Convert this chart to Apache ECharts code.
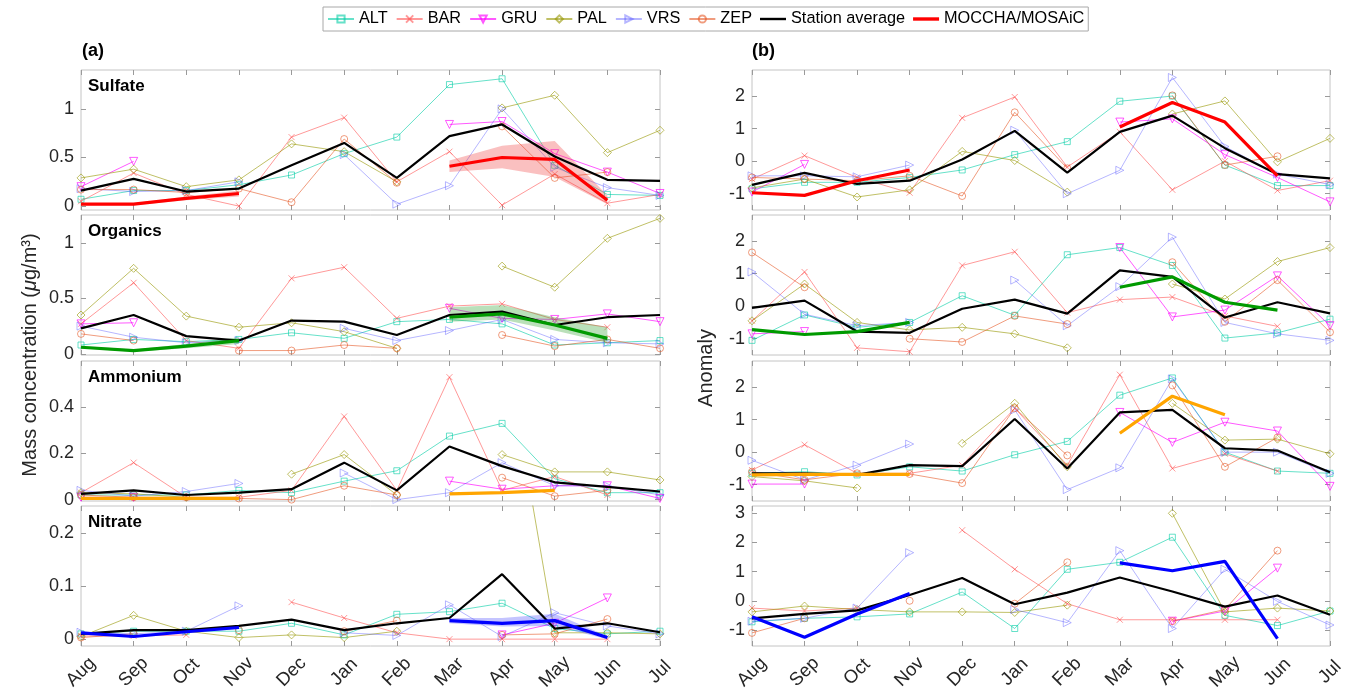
<!DOCTYPE html>
<html><head><meta charset="utf-8">
<script src="https://cdn.jsdelivr.net/npm/echarts@6/dist/echarts.min.js"></script>
<style>html,body{margin:0;padding:0;background:#fff}#c{width:1357px;height:695px}</style>
</head><body><div id="c"></div>
<script>
const months = ['Aug','Sep','Oct','Nov','Dec','Jan','Feb','Mar','Apr','May','Jun','Jul'];
const stations = ['ALT','BAR','GRU','PAL','VRS','ZEP'];
const N = null;

// ---------- (a) Mass concentration ----------
const sulALT = [0.07,0.16,0.16,0.22,0.32,0.54,0.71,1.25,1.31,0.42,0.12,0.11];
const sulBAR = [0.05,0.34,0.12,0.0,0.71,0.91,0.25,0.56,0.01,0.33,0.03,0.12];
const sulGRU = [0.2,0.46,N,N,N,N,N,0.84,0.87,0.54,0.35,0.13];
const sulPAL = [0.29,0.38,0.2,0.27,0.64,0.56,0.25,N,1.01,1.14,0.55,0.78];
const sulVRS = [0.18,0.15,0.16,0.25,N,0.53,0.02,0.21,1.0,0.4,0.19,0.11];
const sulZEP = [0.17,0.17,0.14,0.18,0.04,0.69,0.24,N,0.82,0.29,0.35,N];
const sulAVG = [0.16,0.28,0.15,0.18,0.42,0.65,0.29,0.72,0.84,0.51,0.27,0.26];
const sulMOC = [0.02,0.02,0.08,0.13,N,N,N,0.41,0.5,0.48,0.06,N];
const sulLO  = [0.01,0.01,0.06,0.10,N,N,N,0.35,0.39,0.30,0.02,N];
const sulHI  = [0.03,0.03,0.10,0.16,N,N,N,0.47,0.62,0.67,0.11,N];

const orgALT = [0.08,0.13,0.11,0.13,0.19,0.14,0.29,0.31,0.27,0.08,0.1,0.12];
const orgBAR = [0.27,0.64,0.12,0.05,0.68,0.78,0.32,0.43,0.45,0.31,0.24,N];
const orgGRU = [0.27,0.28,N,N,N,N,N,0.41,0.32,0.31,0.36,0.29];
const orgPAL = [0.35,0.77,0.34,0.24,0.28,0.2,0.05,N,0.79,0.6,1.04,1.22];
const orgVRS = [0.25,0.15,0.1,0.12,N,0.23,0.12,0.21,0.31,0.13,0.1,0.09];
const orgZEP = [0.18,0.12,N,0.03,0.03,0.08,0.05,N,0.17,0.07,0.13,0.05];
const orgAVG = [0.23,0.35,0.16,0.12,0.3,0.29,0.17,0.35,0.38,0.26,0.33,0.35];
const orgMOC = [0.06,0.03,0.07,0.12,N,N,N,0.33,0.36,0.26,0.14,N];
const orgLO  = [0.05,0.02,0.05,0.09,N,N,N,0.29,0.31,0.21,0.10,N];
const orgHI  = [0.07,0.04,0.09,0.15,N,N,N,0.42,0.44,0.33,0.24,N];

const ammALT = [0.02,0.02,0.02,0.04,0.03,0.08,0.125,0.275,0.33,0.09,0.03,0.03];
const ammBAR = [0.03,0.16,0.01,0.01,0.04,0.36,0.04,0.53,0.04,0.1,0.02,N];
const ammGRU = [0.01,0.01,N,N,N,N,N,0.08,0.045,0.06,0.06,0.005];
const ammPAL = [0.03,0.025,0.01,N,0.11,0.195,0.02,N,0.195,0.12,0.12,0.085];
const ammVRS = [0.04,0.015,0.035,0.07,N,0.115,0.0,0.03,0.16,0.06,0.06,0.02];
const ammZEP = [0.02,0.01,0.01,0.005,0.0,0.06,0.02,N,0.095,0.015,0.04,N];
const ammAVG = [0.025,0.04,0.02,0.03,0.045,0.16,0.04,0.23,0.145,0.075,0.055,0.035];
const ammMOC = [0.005,0.005,0.005,0.005,N,N,N,0.025,0.03,0.04,N,N];

const nitALT = [0.01,0.015,0.015,0.015,0.03,0.008,0.047,0.052,0.068,0.02,0.01,0.015];
const nitBAR = [0.006,0.006,0.008,N,0.07,0.04,0.012,0.0,0.0,0.0,0.0,N];
const nitGRU = [N,N,N,N,N,N,N,N,0.008,0.03,0.078,N];
const nitPAL = [0.005,0.045,0.015,0.003,0.008,0.003,0.015,N,0.59,0.012,0.012,0.01];
const nitVRS = [0.013,0.01,0.015,0.063,N,0.012,0.007,0.065,0.005,0.05,0.025,0.01];
const nitZEP = [0.003,0.01,N,0.017,N,0.015,0.035,N,0.008,0.01,0.038,N];
const nitAVG = [0.01,0.017,0.017,0.025,0.037,0.017,0.03,0.04,0.123,0.02,0.03,0.013];
const nitMOC = [0.012,0.005,0.014,0.022,N,N,N,0.035,0.03,0.035,0.003,N];
const nitLO  = [0.010,0.003,0.012,0.019,N,N,N,0.030,0.024,0.025,0.0,N];
const nitHI  = [0.014,0.007,0.016,0.026,N,N,N,0.040,0.040,0.048,0.006,N];

// ---------- (b) Anomaly ----------
const aSulALT = [-0.85,-0.65,-0.65,-0.5,-0.27,0.2,0.6,1.84,2.0,-0.12,-0.75,-0.75];
const aSulBAR = [-0.55,0.17,-0.5,-0.97,1.33,1.97,-0.18,0.9,-0.88,0.0,-0.9,-0.6];
const aSulGRU = [-0.95,-0.1,N,N,N,N,N,1.2,1.3,0.2,-0.5,-1.25];
const aSulPAL = [-0.82,-0.55,-1.1,-0.88,0.3,0.02,-0.95,N,1.45,1.85,-0.02,0.7];
const aSulVRS = [-0.45,-0.45,-0.48,-0.12,N,0.95,-1.0,-0.28,2.57,0.45,-0.4,-0.72];
const aSulZEP = [-0.5,-0.55,-0.6,-0.45,-1.07,1.5,-0.22,N,2.02,-0.12,0.15,N];
const aSulAVG = [-0.73,-0.36,-0.7,-0.6,0.05,0.93,-0.35,0.9,1.4,0.4,-0.4,-0.53];
const aSulMOC = [-0.97,-1.05,-0.6,-0.27,N,N,N,1.05,1.8,1.2,-0.45,N];

const aOrgALT = [-1.05,-0.27,-0.65,-0.5,0.32,-0.28,1.58,1.8,1.25,-0.98,-0.82,-0.4];
const aOrgBAR = [-0.45,1.05,-1.28,-1.4,1.25,1.67,-0.2,0.2,0.28,-0.3,-0.62,N];
const aOrgGRU = [-0.85,-0.78,N,N,N,N,N,1.8,-0.33,-0.12,0.93,-0.6];
const aOrgPAL = [-0.45,0.68,-0.5,-0.73,-0.65,-0.85,-1.28,N,0.68,0.22,1.37,1.8];
const aOrgVRS = [1.05,-0.25,-0.6,-0.5,N,0.8,-0.6,0.6,2.12,-0.5,-0.85,-1.05];
const aOrgZEP = [1.65,0.58,N,-1.0,-1.1,-0.3,-0.55,N,1.35,-0.48,0.8,-0.8];
const aOrgAVG = [-0.05,0.17,-0.78,-0.82,-0.08,0.2,-0.23,1.1,0.9,-0.35,0.12,-0.22];
const aOrgMOC = [-0.72,-0.87,-0.78,-0.5,N,N,N,0.58,0.9,0.12,-0.12,N];

const aAmmALT = [-0.65,-0.6,-0.7,-0.45,-0.58,-0.08,0.33,1.75,2.28,0.0,-0.58,-0.65];
const aAmmBAR = [-0.55,0.23,-0.65,-0.65,-0.4,1.35,-0.4,2.38,-0.5,-0.05,-0.58,N];
const aAmmGRU = [-0.98,-0.98,N,N,N,N,N,1.22,0.3,0.92,0.65,-1.05];
const aAmmPAL = [-0.75,-0.88,-1.1,N,0.27,1.5,-0.45,N,1.5,0.37,0.4,-0.05];
const aAmmVRS = [-0.25,-0.85,-0.4,0.25,N,1.3,-1.15,-0.48,2.25,0.0,0.0,-0.65];
const aAmmZEP = [-0.6,-0.85,-0.65,-0.67,-0.95,1.35,-0.1,N,2.05,-0.45,0.45,N];
const aAmmAVG = [-0.65,-0.65,-0.7,-0.4,-0.43,1.02,-0.5,1.22,1.3,0.12,0.05,-0.62];
const aAmmMOC = [-0.7,-0.68,-0.68,-0.68,N,N,N,0.58,1.72,1.15,N,N];

const aNitALT = [-0.72,-0.6,-0.55,-0.45,0.3,-0.95,1.08,1.32,2.18,-0.5,-0.85,-0.35];
const aNitBAR = [-0.25,-0.35,-0.25,N,2.42,1.08,-0.1,-0.65,-0.65,-0.65,-0.65,N];
const aNitGRU = [N,N,N,N,N,N,N,N,-0.7,-0.35,1.12,N];
const aNitPAL = [-0.38,-0.18,-0.3,-0.38,-0.38,-0.4,-0.15,N,3.0,-0.38,-0.25,-0.35];
const aNitVRS = [-0.7,-0.6,-0.25,1.65,N,-0.3,-0.75,1.72,-0.95,1.08,-0.02,-0.83];
const aNitZEP = [-1.1,-0.6,N,0.0,N,-0.1,1.32,N,-0.7,-0.3,1.72,N];
const aNitAVG = [-0.6,-0.45,-0.33,0.2,0.78,-0.12,0.28,0.8,0.32,-0.2,0.18,-0.48];
const aNitMOC = [-0.55,-1.25,-0.45,0.25,N,N,N,1.3,1.03,1.35,-1.3,N];

// tick labels
const ticksSul = [0,0.5,1];
const ticksOrg = [0,0.5,1];
const ticksAmm = [0,0.2,0.4];
const ticksNit = [0,0.1,0.2];
const ticksAn  = [-1,0,1,2];
const ticksAnN = [-1,0,1,2,3];
const species = ['Sulfate','Organics','Ammonium','Nitrate'];

// ---------- build ----------
const FONT = '"Liberation Sans", Arial, Helvetica, sans-serif';
const TXT = '#262626';
const stStyle = {
  ALT:{c:'rgba(0,205,165,0.6)', sym:'rect', size:6, rot:0},
  BAR:{c:'rgba(255,70,70,0.55)', sym:'path://M0,0L10,10M10,0L0,10', size:6, rot:0},
  GRU:{c:'rgba(255,0,255,0.65)', sym:'triangle', size:8, rot:180},
  PAL:{c:'rgba(150,150,0,0.6)', sym:'diamond', size:8, rot:0},
  VRS:{c:'rgba(80,80,255,0.42)', sym:'triangle', size:8, rot:-90},
  ZEP:{c:'rgba(230,90,40,0.6)', sym:'circle', size:7, rot:0}
};
const panels = [
  {col:0,row:0,st:[sulALT,sulBAR,sulGRU,sulPAL,sulVRS,sulZEP],avg:sulAVG,moc:sulMOC,lo:sulLO,hi:sulHI,mc:'#ff0000',bc:'rgba(240,60,60,0.32)',min:-0.04,max:1.4,ticks:ticksSul},
  {col:0,row:1,st:[orgALT,orgBAR,orgGRU,orgPAL,orgVRS,orgZEP],avg:orgAVG,moc:orgMOC,lo:orgLO,hi:orgHI,mc:'#009a00',bc:'rgba(40,160,40,0.32)',min:-0.01,max:1.25,ticks:ticksOrg},
  {col:0,row:2,st:[ammALT,ammBAR,ammGRU,ammPAL,ammVRS,ammZEP],avg:ammAVG,moc:ammMOC,lo:null,hi:null,mc:'#ffa500',bc:null,min:-0.006,max:0.6,ticks:ticksAmm},
  {col:0,row:3,st:[nitALT,nitBAR,nitGRU,nitPAL,nitVRS,nitZEP],avg:nitAVG,moc:nitMOC,lo:nitLO,hi:nitHI,mc:'#0000ff',bc:'rgba(60,60,255,0.3)',min:-0.013,max:0.252,ticks:ticksNit},
  {col:1,row:0,st:[aSulALT,aSulBAR,aSulGRU,aSulPAL,aSulVRS,aSulZEP],avg:aSulAVG,moc:aSulMOC,mc:'#ff0000',min:-1.5,max:2.8,ticks:ticksAn},
  {col:1,row:1,st:[aOrgALT,aOrgBAR,aOrgGRU,aOrgPAL,aOrgVRS,aOrgZEP],avg:aOrgAVG,moc:aOrgMOC,mc:'#009a00',min:-1.5,max:2.8,ticks:ticksAn},
  {col:1,row:2,st:[aAmmALT,aAmmBAR,aAmmGRU,aAmmPAL,aAmmVRS,aAmmZEP],avg:aAmmAVG,moc:aAmmMOC,mc:'#ffa500',min:-1.5,max:2.8,ticks:ticksAn},
  {col:1,row:3,st:[aNitALT,aNitBAR,aNitGRU,aNitPAL,aNitVRS,aNitZEP],avg:aNitAVG,moc:aNitMOC,mc:'#0000ff',min:-1.55,max:3.25,ticks:ticksAnN}
];

const tops = [70,215,361,506], H = 140;
const grids=[], xAxes=[], yAxes=[], series=[];
panels.forEach((p,g)=>{
  grids.push({left: p.col===0?81:752, right: p.col===0?697:27, top: tops[p.row], height: H,
    show:true, borderColor:'#c4c4c4', borderWidth:1, containLabel:false});
  const tick = {show:true, inside:true, length:5, interval:0, lineStyle:{color:'#9a9a9a'}};
  xAxes.push({type:'category', gridIndex:g, data:months, boundaryGap:false, position:'bottom',
    axisLine:{show:false, onZero:false}, axisTick:tick, splitLine:{show:false},
    axisLabel:{show:p.row===3, interval:0, rotate:45, fontSize:18.5, color:TXT, fontFamily:FONT,
      margin:26, align:'center', verticalAlign:'middle'}});
  xAxes.push({type:'category', gridIndex:g, data:months, boundaryGap:false, position:'top',
    axisLine:{show:false, onZero:false}, axisTick:tick, axisLabel:{show:false}, splitLine:{show:false}});
  const yt = {show:true, inside:true, length:5, customValues:p.ticks, lineStyle:{color:'#9a9a9a'}};
  yAxes.push({type:'value', gridIndex:g, min:p.min, max:p.max, position:'left',
    axisLine:{show:false, onZero:false}, splitLine:{show:false}, axisTick:yt,
    axisLabel:{show:true, customValues:p.ticks, fontSize:18, color:TXT, fontFamily:FONT, margin:7}});
  yAxes.push({type:'value', gridIndex:g, min:p.min, max:p.max, position:'right',
    axisLine:{show:false, onZero:false}, splitLine:{show:false}, axisTick:yt, axisLabel:{show:false}});
  const xi = 2*g, yi = 2*g;
  stations.forEach((s,k)=>{
    const ss = stStyle[s];
    series.push({type:'line', name:s, xAxisIndex:xi, yAxisIndex:yi, data:p.st[k],
      symbol:ss.sym, symbolSize:ss.size, symbolRotate:ss.rot, showSymbol:true, connectNulls:false,
      lineStyle:{color:ss.c, width:1}, itemStyle:{color:'rgba(255,255,255,0)', borderColor:ss.c, borderWidth:1},
      emphasis:{disabled:true}, animation:false, z:2});
  });
  if (p.lo) {
    const diff = p.hi.map((h,i)=> h==null?null: +(h - p.lo[i]).toFixed(4));
    series.push({type:'line', name:'_lo'+g, xAxisIndex:xi, yAxisIndex:yi, data:p.lo, stack:'band'+g,
      symbol:'none', lineStyle:{opacity:0}, animation:false, z:3, silent:true});
    series.push({type:'line', name:'_hi'+g, xAxisIndex:xi, yAxisIndex:yi, data:diff, stack:'band'+g,
      symbol:'none', lineStyle:{opacity:0}, areaStyle:{color:p.bc, opacity:1}, animation:false, z:3, silent:true});
  }
  series.push({type:'line', name:'Station average', xAxisIndex:xi, yAxisIndex:yi, data:p.avg,
    symbol:'none', lineStyle:{color:'#000', width:2.2}, itemStyle:{color:'#000'}, animation:false, z:4});
  series.push({type:'line', name:'MOCCHA/MOSAiC', xAxisIndex:xi, yAxisIndex:yi, data:p.moc,
    symbol:'none', connectNulls:false, lineStyle:{color:p.mc, width:3.2}, itemStyle:{color:p.mc}, animation:false, z:5});
});

const graphics = [
  {type:'text', left:82, top:42, style:{text:'(a)', font:'bold 18px '+FONT, fill:'#000'}},
  {type:'text', left:752, top:42, style:{text:'(b)', font:'bold 18px '+FONT, fill:'#000'}},
  {type:'text', x:30, y:355, rotation:Math.PI/2, style:{
    text:'{n|Mass concentration (}{i|μ}{n|g/m³)}', align:'center', verticalAlign:'middle', fill:TXT,
    rich:{n:{fontSize:20, fontFamily:FONT, fill:TXT}, i:{fontSize:20, fontFamily:FONT, fontStyle:'italic', fill:TXT}}}},
  {type:'text', x:706, y:368, rotation:Math.PI/2, style:{text:'Anomaly', align:'center', verticalAlign:'middle',
    font:'20px '+FONT, fill:TXT}}
];
species.forEach((s,r)=>{
  graphics.push({type:'text', left:88, top:tops[r]+8, style:{text:s, font:'bold 17px '+FONT, fill:'#000'}});
});

const chart = echarts.init(document.getElementById('c'), null, {renderer:'canvas'});
chart.setOption({
  animation:false,
  backgroundColor:'#fff',
  legend:{data:['ALT','BAR','GRU','PAL','VRS','ZEP',
      {name:'Station average', icon:'path://M0,0H26V2.4H0Z', itemStyle:{color:'#000'}},
      {name:'MOCCHA/MOSAiC', icon:'path://M0,0H26V3.4H0Z', itemStyle:{color:'#ff0000'}}],
    left:323, top:7, itemWidth:26, itemHeight:9, itemGap:8, padding:[4,4],
    borderColor:'#a8a8a8', borderWidth:1, textStyle:{fontSize:16.3, color:'#000', fontFamily:FONT}, selectedMode:false},
  grid:grids, xAxis:xAxes, yAxis:yAxes, series:series, graphic:graphics
});
</script></body></html>
